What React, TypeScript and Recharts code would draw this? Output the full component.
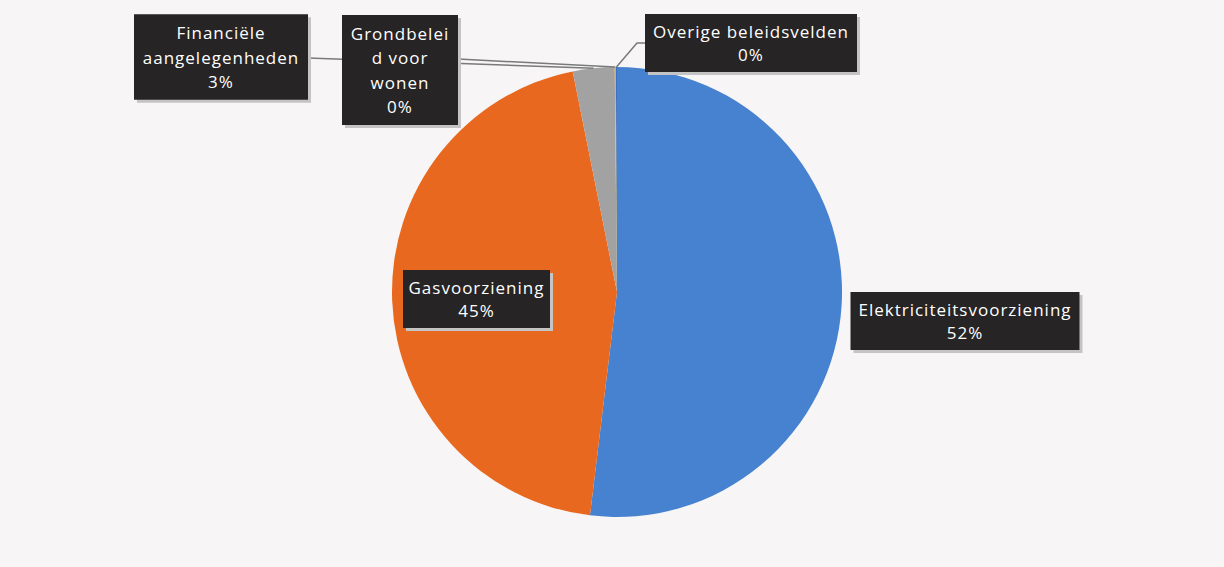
import React from 'react';
import { PieChart, Pie, Cell } from 'recharts';

// beleidsvelden en hun aandeel
const names = [
  'Elektriciteitsvoorziening',
  'Gasvoorziening',
  'Financiële aangelegenheden',
  'Grondbeleid voor wonen',
  'Overige beleidsvelden',
];
const values = [52, 45, 3, 0.08, 0.08];
const colors = ['#4682D0', '#E8681F', '#A2A2A2', '#F2B800', '#3F6FC0'];

// tekst per label zoals in het origineel afgebroken
const labelLines = [
  ['Elektriciteitsvoorziening'],
  ['Gasvoorziening'],
  ['Financiële', 'aangelegenheden'],
  ['Grondbelei', 'd voor', 'wonen'],
  ['Overige beleidsvelden'],
];

// plaatsing van de labelvakken t.o.v. het middelpunt
const labelBoxes = [
  { dx: 348, dy: 29, w: 229, leader: null as null | number[][] },
  { dx: -140.5, dy: 7, w: 147, leader: null },
  { dx: -396, dy: -235, w: 174, leader: [[-309, -234]] },
  { dx: -217, dy: -222, w: 116, leader: [[-159, -233]] },
  { dx: 134, dy: -249, w: 212, leader: [[20, -249], [28, -249]] },
];

const data = names.map((name, i) => ({ name, value: values[i] }));

const RADIAN = Math.PI / 180;

const renderLabel = (props: any) => {
  const { cx, cy, midAngle, outerRadius, index, percent } = props;
  const box = labelBoxes[index];
  const lines = [...labelLines[index], `${Math.round(percent * 100)}%`];
  const lineH = lines.length > 2 ? 24.5 : 23;
  const h = lines.length * lineH + 12;
  const bx = cx + box.dx;
  const by = cy + box.dy;
  const sx = cx + outerRadius * Math.cos(-midAngle * RADIAN);
  const sy = cy + outerRadius * Math.sin(-midAngle * RADIAN);
  const pts = box.leader
    ? [[sx, sy], ...box.leader.map(p => [cx + p[0], cy + p[1]])]
    : null;
  return (
    <g key={`lbl-${index}`}>
      {pts && (
        <polyline
          points={pts.map(p => p.join(',')).join(' ')}
          fill="none"
          stroke="#7a7a7a"
          strokeWidth={1.5}
        />
      )}
      <rect x={bx - box.w / 2 + 3} y={by - h / 2 + 3} width={box.w} height={h} fill="#c4c4c4" />
      <rect x={bx - box.w / 2} y={by - h / 2} width={box.w} height={h} fill="#262424" />
      {lines.map((t, i) => (
        <text
          key={i}
          x={bx}
          y={by - h / 2 + 6 + lineH * i + lineH / 2}
          textAnchor="middle"
          dominantBaseline="central"
          fill="#ffffff"
          fontSize={17}
          letterSpacing={1}
          fontFamily="'Open Sans', sans-serif"
        >
          {t}
        </text>
      ))}
    </g>
  );
};

export default function App() {
  return (
    <div style={{ position: 'absolute', left: 0, top: 0, width: 1224, height: 567, background: '#F7F5F6' }}>
      <PieChart width={1224} height={567} margin={{ top: 0, right: 0, bottom: 0, left: 0 }}>
        <Pie
          data={data}
          dataKey="value"
          nameKey="name"
          cx={617}
          cy={292}
          outerRadius={225}
          startAngle={90}
          endAngle={-270}
          stroke="none"
          label={renderLabel}
          labelLine={false}
          isAnimationActive={false}
        >
          {data.map((d, i) => (
            <Cell key={d.name} fill={colors[i]} />
          ))}
        </Pie>
      </PieChart>
    </div>
  );
}
